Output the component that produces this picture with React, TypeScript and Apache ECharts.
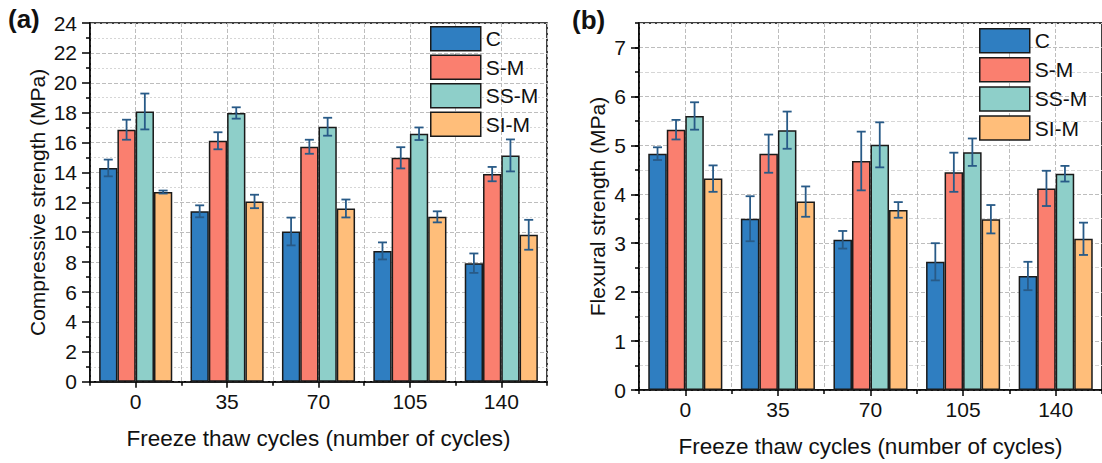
import React, { useEffect, useRef } from "react";
import * as echarts from "echarts";

const categories = ["0", "35", "70", "105", "140"];
const seriesNames = ["C", "S-M", "SS-M", "SI-M"];
const colors = ["#2F7EC1", "#FA7F6F", "#8ECFC9", "#FFBE7A"];

// (a) Compressive strength (MPa)
const compC = [14.3, 11.4, 10.05, 8.75, 7.93];
const compCErr = [0.56, 0.4, 0.93, 0.57, 0.65];
const compSM = [16.86, 16.12, 15.72, 14.98, 13.89];
const compSMErr = [0.67, 0.57, 0.47, 0.71, 0.48];
const compSSM = [18.08, 17.98, 17.06, 16.59, 15.14];
const compSSMErr = [1.2, 0.38, 0.6, 0.42, 1.07];
const compSIM = [12.69, 12.06, 11.59, 11.03, 9.83];
const compSIMErr = [0.1, 0.45, 0.6, 0.37, 1.0];

// (b) Flexural strength (MPa)
const flexC = [4.83, 3.5, 3.07, 2.62, 2.33];
const flexCErr = [0.13, 0.46, 0.18, 0.38, 0.29];
const flexSM = [5.32, 4.83, 4.68, 4.45, 4.12];
const flexSMErr = [0.2, 0.39, 0.6, 0.4, 0.36];
const flexSSM = [5.6, 5.31, 5.01, 4.86, 4.42];
const flexSSMErr = [0.28, 0.38, 0.46, 0.28, 0.16];
const flexSIM = [4.32, 3.85, 3.68, 3.49, 3.09];
const flexSIMErr = [0.27, 0.31, 0.16, 0.29, 0.33];

const compValues = [compC, compSM, compSSM, compSIM];
const compErrors = [compCErr, compSMErr, compSSMErr, compSIMErr];
const flexValues = [flexC, flexSM, flexSSM, flexSIM];
const flexErrors = [flexCErr, flexSMErr, flexSSMErr, flexSIMErr];

const FONT = "'Liberation Sans', Arial, sans-serif";
const TXT = "#111";

const makeErr = (k: number) => (params: any, api: any) => {
  const ci = api.value(0);
  const lo = api.coord([ci, api.value(1)]);
  const hi = api.coord([ci, api.value(2)]);
  const band = api.size([1, 0])[0];
  const bw = (band * 0.8) / 4;
  const x = lo[0] + (k - 1.5) * bw;
  const h = 4.5;
  const style = { stroke: "#285a87", lineWidth: 1.8, fill: "none" };
  return {
    type: "group",
    children: [
      { type: "line", shape: { x1: x, y1: hi[1], x2: x, y2: lo[1] }, style },
      { type: "line", shape: { x1: x - h, y1: hi[1], x2: x + h, y2: hi[1] }, style },
      { type: "line", shape: { x1: x - h, y1: lo[1], x2: x + h, y2: lo[1] }, style },
    ],
  };
};

const tickLine = { color: "#000", width: 1.5 };
const majorGrid = { color: "#bdbdbd", type: [4, 2], width: 1 };
const minorGrid = { color: "#d6d6d6", type: [2, 2], width: 1 };

function overlayX(gridIndex: number) {
  return {
    type: "value",
    gridIndex,
    position: "bottom",
    min: -0.5,
    max: 4.5,
    interval: 1,
    axisLine: { show: false, onZero: false },
    axisLabel: { show: false },
    axisTick: { show: true, length: 4, lineStyle: tickLine },
    minorTick: { show: true, splitNumber: 2, length: 6, lineStyle: tickLine },
    splitLine: { show: true, lineStyle: majorGrid },
    minorSplitLine: { show: true, lineStyle: majorGrid },
  };
}

function catX(gridIndex: number) {
  return {
    type: "category",
    gridIndex,
    position: "bottom",
    data: categories,
    axisLine: { show: true, onZero: false, lineStyle: { color: "#000", width: 1.5 } },
    axisTick: { show: false },
    axisLabel: { fontSize: 21, color: TXT, margin: 9, fontFamily: FONT },
    splitLine: { show: false },
    name: "Freeze thaw cycles (number of cycles)",
    nameLocation: "middle",
    nameGap: 45,
    nameTextStyle: { fontSize: 22.5, color: TXT, fontFamily: FONT },
  };
}

function buildSeries(values: number[][], errors: number[][], xIdx: number, yIdx: number) {
  const out: any[] = [];
  values.forEach((vals, k) => {
    out.push({
      type: "bar",
      name: seriesNames[k],
      xAxisIndex: xIdx,
      yAxisIndex: yIdx,
      data: vals,
      barGap: "0%",
      barCategoryGap: "20%",
      itemStyle: { color: colors[k], borderColor: "#1a1a1a", borderWidth: 1.5 },
      z: 2,
    });
  });
  values.forEach((vals, k) => {
    out.push({
      type: "custom",
      name: "err-" + xIdx + "-" + k,
      xAxisIndex: xIdx,
      yAxisIndex: yIdx,
      renderItem: makeErr(k),
      encode: { x: 0, y: [1, 2] },
      data: vals.map((v, i) => [i, v - errors[k][i], v + errors[k][i]]),
      z: 4,
    });
  });
  return out;
}

function legendAt(left: number, top: number, gap: number) {
  return {
    left,
    top,
    orient: "vertical",
    icon: "rect",
    itemWidth: 50,
    itemHeight: 24,
    itemGap: gap,
    padding: 0,
    data: seriesNames,
    itemStyle: { borderColor: "#1a1a1a", borderWidth: 1.5 },
    textStyle: { fontSize: 21, color: TXT, fontFamily: FONT },
    selectedMode: false,
  };
}

export default function App() {
  const ref = useRef<HTMLDivElement>(null);
  useEffect(() => {
    if (!ref.current) return;
    const chart = echarts.init(ref.current, null, { renderer: "svg" });
    const option: any = {
      animation: false,
      backgroundColor: "#fff",
      textStyle: { fontFamily: FONT },
      grid: [
        { left: 90, top: 23, width: 457, height: 358.7, show: true, borderColor: "#000", borderWidth: 1.5, backgroundColor: "transparent" },
        { left: 639, top: 23, width: 468, height: 367.7, show: true, borderColor: "#000", borderWidth: 1.5, backgroundColor: "transparent" },
      ],
      xAxis: [catX(0), overlayX(0), catX(1), overlayX(1)],
      yAxis: [
        {
          type: "value",
          gridIndex: 0,
          position: "left",
          min: 0,
          max: 24,
          interval: 2,
          axisLine: { show: true, onZero: false, lineStyle: { color: "#000", width: 1.5 } },
          axisTick: { show: true, length: 8, lineStyle: tickLine },
          minorTick: { show: true, splitNumber: 2, length: 4, lineStyle: tickLine },
          axisLabel: { fontSize: 21, color: TXT, margin: 13, fontFamily: FONT },
          splitLine: { show: true, lineStyle: majorGrid },
          minorSplitLine: { show: true, lineStyle: minorGrid },
          name: "Compressive strength (MPa)",
          nameLocation: "middle",
          nameGap: 42,
          nameTextStyle: { fontSize: 21, color: TXT, fontFamily: FONT },
        },
        {
          type: "value",
          gridIndex: 1,
          position: "left",
          min: 0,
          max: 7.5,
          interval: 1,
          axisLine: { show: true, onZero: false, lineStyle: { color: "#000", width: 1.5 } },
          axisTick: { show: true, length: 8, lineStyle: tickLine },
          axisLabel: { fontSize: 21, color: TXT, margin: 13, showMaxLabel: false, fontFamily: FONT },
          splitLine: { show: false },
          name: "Flexural strength (MPa)",
          nameLocation: "middle",
          nameGap: 31,
          nameTextStyle: { fontSize: 21, color: TXT, fontFamily: FONT },
        },
        {
          type: "value",
          gridIndex: 1,
          position: "left",
          min: 0,
          max: 7.5,
          interval: 0.5,
          axisLine: { show: false, onZero: false },
          axisTick: { show: true, length: 4, lineStyle: tickLine },
          axisLabel: { show: false },
          splitLine: { show: true, lineStyle: { color: ["#bdbdbd", "#d6d6d6"], type: [4, 2], width: 1 } },
        },
      ],
      legend: [legendAt(430, 26, 3), legendAt(979, 28, 3.6)],
      graphic: [
        { type: "text", left: 8, top: 6, style: { text: "(a)", font: "bold 26px " + FONT, fill: "#111" } },
        { type: "text", left: 572, top: 7, style: { text: "(b)", font: "bold 26px " + FONT, fill: "#111" } },
      ],
      series: [...buildSeries(compValues, compErrors, 0, 0), ...buildSeries(flexValues, flexErrors, 2, 1)],
    };
    chart.setOption(option);
    return () => chart.dispose();
  }, []);
  return (
    <div
      ref={ref}
      style={{ position: "fixed", left: 0, top: 0, width: 1102, height: 463, background: "#fff" }}
    />
  );
}
